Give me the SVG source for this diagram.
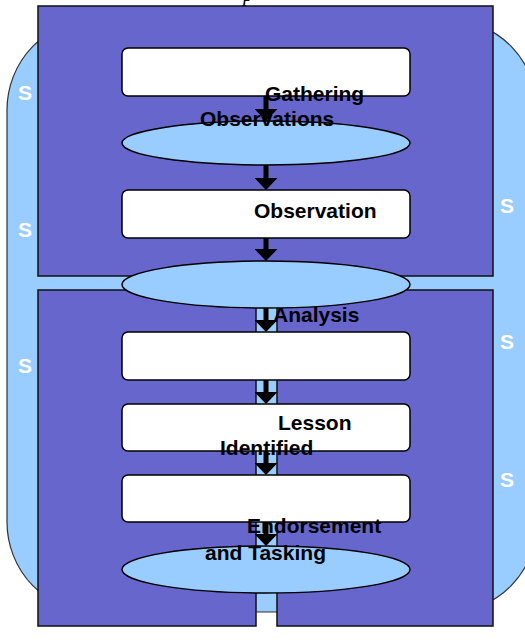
<svg xmlns="http://www.w3.org/2000/svg" width="525" height="644" viewBox="0 0 525 644">
<defs>
<style>
.frame{fill:#99CCFF;stroke:#333;stroke-width:1.2}
.panel{fill:#6666CC;stroke:#111;stroke-width:1.5}
.box{fill:#FFFFFF;stroke:#000;stroke-width:1.5}
.oval{fill:#99CCFF;stroke:#000;stroke-width:1.5}
.lbl{font-family:"Liberation Sans",Arial,sans-serif;font-weight:bold;font-size:21px;fill:#000}
.side{font-family:"Liberation Sans",Arial,sans-serif;font-weight:bold;font-size:21px;fill:#FFFFFF}
.ttl{font-family:"Liberation Serif","Times New Roman",serif;font-style:italic;font-size:20px;fill:#000}
.arr{stroke:#000;stroke-width:5;fill:none}
</style>
<marker id="head" markerUnits="userSpaceOnUse" markerWidth="12" markerHeight="23" viewBox="0 0 12 23" refX="0" refY="11.5" orient="auto">
<path d="M0,0 L12,11.5 L0,23 Z" fill="#000"/>
</marker>
</defs>
<rect width="525" height="644" fill="#FFFFFF"/>
<text class="ttl" x="243" y="1">p</text>
<g id="frame">
<rect class="frame" x="7" y="20" width="530" height="592" rx="88" ry="90"/>
<text class="side" x="18" y="100">S</text>
<text class="side" x="18" y="237">S</text>
<text class="side" x="18" y="373">S</text>
<text class="side" x="500" y="213">S</text>
<text class="side" x="500" y="349">S</text>
<text class="side" x="500" y="487">S</text>
</g>
<g id="panel-top">
<rect class="panel" x="38" y="6" width="455" height="270"/>
</g>
<g id="panel-bottom">
<rect class="panel" x="38" y="290" width="218" height="336"/>
<rect class="panel" x="277" y="290" width="216" height="336"/>
</g>
<g id="connectors">
<line class="arr" x1="266" y1="96" x2="266" y2="109" marker-end="url(#head)"/>
<line class="arr" x1="266" y1="165" x2="266" y2="178" marker-end="url(#head)"/>
<line class="arr" x1="266" y1="238" x2="266" y2="249" marker-end="url(#head)"/>
<line class="arr" x1="266" y1="308" x2="266" y2="320" marker-end="url(#head)"/>
<line class="arr" x1="266" y1="380" x2="266" y2="392" marker-end="url(#head)"/>
<line class="arr" x1="266" y1="451" x2="266" y2="463" marker-end="url(#head)"/>
<line class="arr" x1="266" y1="522" x2="266" y2="534" marker-end="url(#head)"/>
</g>
<g id="node-gathering">
<rect class="box" x="122" y="48" width="288" height="48" rx="6"/>
</g>
<g id="node-observations">
<ellipse class="oval" cx="266" cy="143" rx="144" ry="22"/>
</g>
<g id="node-observation">
<rect class="box" x="122" y="190" width="288" height="48" rx="6"/>
</g>
<g id="node-ellipse2">
<ellipse class="oval" cx="266" cy="284.5" rx="144" ry="23.5"/>
</g>
<g id="node-analysis">
<rect class="box" x="122" y="332" width="288" height="48" rx="6"/>
</g>
<g id="node-lesson">
<rect class="box" x="122" y="404" width="288" height="47" rx="6"/>
</g>
<g id="node-endorsement">
<rect class="box" x="122" y="475" width="288" height="47" rx="6"/>
</g>
<g id="node-ellipse3">
<ellipse class="oval" cx="266" cy="569.5" rx="144" ry="23.5"/>
</g>
<g id="labels">
<text class="lbl" x="265" y="101">Gathering</text>
<text class="lbl" x="200" y="126">Observations</text>
<text class="lbl" x="254" y="218">Observation</text>
<text class="lbl" x="273" y="322">Analysis</text>
<text class="lbl" x="278" y="430">Lesson</text>
<text class="lbl" x="220" y="455">Identified</text>
<text class="lbl" x="247" y="533">Endorsement</text>
<text class="lbl" x="205" y="560">and Tasking</text>
</g>
</svg>
